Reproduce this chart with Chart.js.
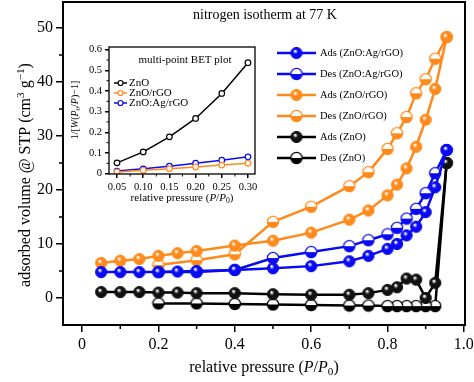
<!DOCTYPE html>
<html>
<head>
<meta charset="utf-8">
<style>
  html, body { margin: 0; background: #fff; }
  #wrap { position: relative; width: 474px; height: 382px; }
  #wrap canvas { position: absolute; left: 0; top: 0; }
</style>
</head>
<body>
<div id="wrap">
  <canvas id="main" width="474" height="382"></canvas>
  <canvas id="inset" width="474" height="382"></canvas>
</div>
<script src="https://cdn.jsdelivr.net/npm/chart.js"></script>
<script>
// isotherm data (relative pressure -> adsorbed volume)
const adsP = [0.05, 0.10, 0.15, 0.20, 0.25, 0.30, 0.40, 0.50, 0.60, 0.70, 0.75, 0.80, 0.825, 0.85, 0.875, 0.90, 0.925, 0.955];
const desP = [0.955, 0.925, 0.90, 0.875, 0.85, 0.825, 0.80, 0.75, 0.70, 0.60, 0.50, 0.40, 0.30, 0.20];

const adsAg  = [4.8, 4.8, 4.8, 4.8, 4.9, 5.0, 5.2, 5.5, 5.9, 6.8, 7.8, 9.1, 10.0, 11.6, 13.2, 15.9, 20.5, 27.4];
const desAg  = [27.4, 23.1, 19.4, 16.5, 14.7, 13.0, 11.8, 10.7, 9.6, 8.5, 7.4, 5.2, 4.8, 4.8];
const adsRGO = [6.5, 6.9, 7.2, 7.8, 8.3, 8.7, 9.7, 10.6, 12.1, 14.5, 16.2, 19.0, 21.0, 24.0, 28.0, 33.0, 38.7, 48.3];
const desRGO = [48.3, 44.3, 40.5, 37.9, 33.5, 30.5, 27.6, 23.3, 20.7, 16.9, 14.1, 8.1, 7.0, 6.1];
const adsZnO = [1.1, 1.1, 1.1, 1.0, 1.0, 0.9, 0.9, 0.7, 0.6, 0.6, 0.9, 1.5, 2.0, 3.6, 3.4, 0.0, 2.8, 25.0];
const desZnO = [25.0, -1.5, -1.5, -1.5, -1.5, -1.5, -1.5, -1.4, -1.4, -1.3, -1.2, -1.1, -1.0, -1.0];

const xTicks = [0, 0.2, 0.4, 0.6, 0.8, 1.0];
const yTicks = [0, 10, 20, 30, 40, 50];

// multi-point BET inset
const betP   = [0.05, 0.10, 0.15, 0.20, 0.25, 0.30];
const betZnO = [0.052, 0.105, 0.178, 0.267, 0.388, 0.537];
const betRGO = [0.008, 0.016, 0.024, 0.032, 0.041, 0.050];
const betAg  = [0.012, 0.023, 0.036, 0.050, 0.065, 0.081];
const betXTicks = [0.05, 0.10, 0.15, 0.20, 0.25, 0.30];
const betYTicks = [0, 0.1, 0.2, 0.3, 0.4, 0.5, 0.6];

const BLUE = '#0a0af0', ORANGE = '#ff8a1c', BLACK = '#000000';
const FONT = "'Liberation Serif', 'DejaVu Serif', serif";

// filled "ball" marker
function ball(color) {
  const c = document.createElement('canvas');
  c.width = 14; c.height = 14;
  const g = c.getContext('2d');
  const grd = g.createRadialGradient(5.5, 5, 0.5, 7, 7, 6);
  grd.addColorStop(0, '#ffffff');
  grd.addColorStop(0.35, color);
  grd.addColorStop(1, color);
  g.beginPath(); g.arc(7, 7, 5.6, 0, Math.PI * 2);
  g.fillStyle = grd; g.fill();
  g.lineWidth = 1; g.strokeStyle = color; g.stroke();
  return c;
}
// half filled marker: white top, coloured bottom
function half(color) {
  const c = document.createElement('canvas');
  c.width = 14; c.height = 14;
  const g = c.getContext('2d');
  g.beginPath(); g.arc(7, 7, 5.6, 0, Math.PI * 2);
  g.fillStyle = '#fff'; g.fill();
  g.beginPath(); g.arc(7, 7, 5.6, 0, Math.PI); g.closePath();
  g.fillStyle = color; g.fill();
  g.beginPath(); g.arc(7, 7, 5.6, 0, Math.PI * 2);
  g.lineWidth = 1.2; g.strokeStyle = color; g.stroke();
  return c;
}

function pts(xs, ys) { return xs.map((x, i) => ({ x: x, y: ys[i] })); }

function series(label, xs, ys, color, marker) {
  return {
    label: label, data: pts(xs, ys), showLine: true,
    borderColor: color, backgroundColor: color, borderWidth: 2.5,
    pointStyle: marker, pointRadius: 6, pointHoverRadius: 6
  };
}

// text with italic / sub / superscript parts
function rich(ctx, segs, x, y, size) {
  const fontOf = s => (s.it ? 'italic ' : '') + (size * (s.sc || 1)).toFixed(1) + 'px ' + FONT;
  let total = 0;
  segs.forEach(s => { ctx.font = fontOf(s); total += ctx.measureText(s.t).width; });
  let cx = x - total / 2;
  ctx.textAlign = 'left'; ctx.textBaseline = 'middle';
  segs.forEach(s => {
    ctx.font = fontOf(s);
    ctx.fillText(s.t, cx, y + (s.dy || 0));
    cx += ctx.measureText(s.t).width;
  });
}

function frameAndMinors(chart, lw, xMinor, yMinor, len) {
  const ctx = chart.ctx, a = chart.chartArea;
  const xs = chart.scales.x, ys = chart.scales.y;
  ctx.save();
  ctx.strokeStyle = '#000';
  ctx.lineWidth = lw;
  ctx.strokeRect(a.left, a.top, a.right - a.left, a.bottom - a.top);
  ctx.lineWidth = lw * 0.75;
  ctx.beginPath();
  xMinor.forEach(v => { const p = xs.getPixelForValue(v); ctx.moveTo(p, a.bottom); ctx.lineTo(p, a.bottom + len); });
  yMinor.forEach(v => { const p = ys.getPixelForValue(v); ctx.moveTo(a.left, p); ctx.lineTo(a.left - len, p); });
  ctx.stroke();
  ctx.restore();
}

const mainDeco = {
  id: 'mainDeco',
  afterDraw(chart) {
    const ctx = chart.ctx;
    frameAndMinors(chart, 2, [0.1, 0.3, 0.5, 0.7, 0.9], [5, 15, 25, 35, 45], 4);
    ctx.save();
    ctx.fillStyle = '#000';
    rich(ctx, [{ t: 'nitrogen isotherm at 77 K' }], 265, 15, 14);
    rich(ctx, [{ t: 'relative pressure (' }, { t: 'P', it: 1 }, { t: '/' }, { t: 'P', it: 1 }, { t: '0', sc: 0.7, dy: 4 }, { t: ')' }], 264, 368, 16);
    ctx.translate(26, 175);
    ctx.rotate(-Math.PI / 2);
    rich(ctx, [{ t: 'adsorbed volume @ STP (cm' }, { t: '3', sc: 0.7, dy: -5 }, { t: ' g' }, { t: '\u22121', sc: 0.7, dy: -5 }, { t: ')' }], 0, 0, 16);
    ctx.restore();
    // legend
    ctx.save();
    chart.data.datasets.forEach((d, i) => {
      const y = 53 + i * 21;
      ctx.strokeStyle = d.borderColor; ctx.lineWidth = 2.5;
      ctx.beginPath(); ctx.moveTo(277, y); ctx.lineTo(316, y); ctx.stroke();
      ctx.drawImage(d.pointStyle, 296.5 - 7, y - 7);
      ctx.fillStyle = '#000'; ctx.font = '10.5px ' + FONT;
      ctx.textAlign = 'left'; ctx.textBaseline = 'middle';
      ctx.fillText(d.label, 320, y);
    });
    ctx.restore();
  }
};

function axisCommon(tickLen, size, ticks, fmt) {
  return {
    grid: { drawOnChartArea: false, color: '#000', tickLength: tickLen, lineWidth: 1.5 },
    border: { display: false },
    afterBuildTicks(s) { s.ticks = ticks.map(v => ({ value: v })); },
    ticks: { color: '#000', font: { family: FONT, size: size }, maxRotation: 0, callback: fmt }
  };
}

new Chart(document.getElementById('main'), {
  type: 'scatter',
  data: {
    datasets: [
      series('Ads (ZnO:Ag/rGO)', adsP, adsAg, BLUE, ball(BLUE)),
      series('Des (ZnO:Ag/rGO)', desP, desAg, BLUE, half(BLUE)),
      series('Ads (ZnO/rGO)', adsP, adsRGO, ORANGE, ball(ORANGE)),
      series('Des (ZnO/rGO)', desP, desRGO, ORANGE, half(ORANGE)),
      series('Ads (ZnO)', adsP, adsZnO, BLACK, ball('#111')),
      series('Des (ZnO)', desP, desZnO, BLACK, half(BLACK))
    ]
  },
  options: {
    responsive: false, animation: false, clip: false,
    layout: { autoPadding: false, padding: { top: 2, right: 9, left: 0, bottom: 0 } },
    plugins: { legend: { display: false }, tooltip: { enabled: false } },
    scales: {
      x: Object.assign(axisCommon(7, 16, xTicks, v => v === 0 ? '0' : v.toFixed(1)), {
        type: 'linear', min: -0.05, max: 1.003,
        afterFit(s) { s.height = 57; s.paddingLeft = 0; s.paddingRight = 0; }
      }),
      y: Object.assign(axisCommon(7, 16, yTicks, v => String(v)), {
        type: 'linear', min: -5, max: 54.8,
        afterFit(s) { s.width = 63; s.paddingTop = 0; s.paddingBottom = 0; }
      })
    }
  },
  plugins: [mainDeco]
});

const insetDeco = {
  id: 'insetDeco',
  afterDraw(chart) {
    const ctx = chart.ctx;
    frameAndMinors(chart, 1.3, [0.075, 0.125, 0.175, 0.225, 0.275], [0.05, 0.15, 0.25, 0.35, 0.45, 0.55], 2.5);
    ctx.save();
    ctx.fillStyle = '#000';
    rich(ctx, [{ t: 'multi-point BET plot' }], 185, 60, 11);
    rich(ctx, [{ t: 'relative pressure (' }, { t: 'P', it: 1 }, { t: '/' }, { t: 'P', it: 1 }, { t: '0', sc: 0.7, dy: 3 }, { t: ')' }], 182, 198, 11);
    ctx.translate(75, 110);
    ctx.rotate(-Math.PI / 2);
    rich(ctx, [{ t: '1/[' }, { t: 'W', it: 1 }, { t: '(' }, { t: 'P', it: 1 }, { t: '0', sc: 0.7, dy: 3 }, { t: '/' }, { t: 'P', it: 1 }, { t: ')\u22121]' }], 0, 0, 10);
    ctx.restore();
    ctx.save();
    chart.data.datasets.forEach((d, i) => {
      const y = 83 + i * 10;
      ctx.strokeStyle = d.borderColor; ctx.lineWidth = 1.5;
      ctx.beginPath(); ctx.moveTo(114, y); ctx.lineTo(127, y); ctx.stroke();
      ctx.beginPath(); ctx.arc(120.5, y, 2.5, 0, Math.PI * 2);
      ctx.fillStyle = '#fff'; ctx.fill(); ctx.lineWidth = 1.2; ctx.stroke();
      ctx.fillStyle = '#000'; ctx.font = '11px ' + FONT;
      ctx.textAlign = 'left'; ctx.textBaseline = 'middle';
      ctx.fillText(d.label, 129, y);
    });
    ctx.restore();
  }
};

function betSeries(label, ys, color) {
  return {
    label: label, data: pts(betP, ys), showLine: true,
    borderColor: color, backgroundColor: '#fff', borderWidth: 1.5,
    pointStyle: 'circle', pointRadius: 2.8, pointBorderWidth: 1.2, pointHoverRadius: 2.8
  };
}

new Chart(document.getElementById('inset'), {
  type: 'scatter',
  data: {
    datasets: [
      betSeries('ZnO', betZnO, BLACK),
      betSeries('ZnO/rGO', betRGO, ORANGE),
      betSeries('ZnO:Ag/rGO', betAg, BLUE)
    ]
  },
  options: {
    responsive: false, animation: false,
    layout: { autoPadding: false, padding: { top: 47, right: 219, left: 0, bottom: 0 } },
    plugins: { legend: { display: false }, tooltip: { enabled: false } },
    scales: {
      x: Object.assign(axisCommon(4, 10.5, betXTicks, v => v.toFixed(2)), {
        type: 'linear', min: 0.0347, max: 0.3134,
        afterFit(s) { s.height = 208; s.paddingLeft = 0; s.paddingRight = 0; }
      }),
      y: Object.assign(axisCommon(4, 10.5, betYTicks, v => v === 0 ? '0' : v.toFixed(1)), {
        type: 'linear', min: -0.002, max: 0.613,
        afterFit(s) { s.width = 109; s.paddingTop = 0; s.paddingBottom = 0; }
      })
    }
  },
  plugins: [insetDeco]
});
</script>
</body>
</html>
